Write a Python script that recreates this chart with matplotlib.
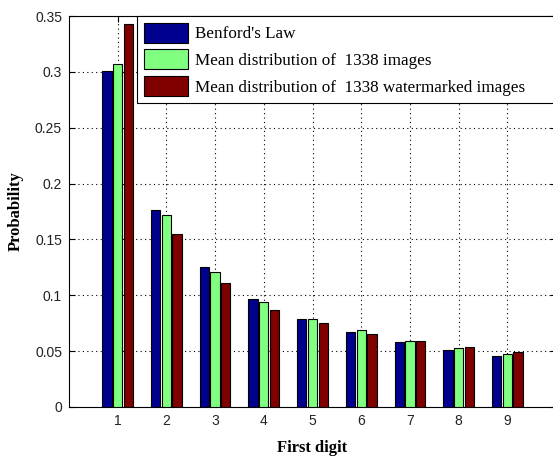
import matplotlib.pyplot as plt
import numpy as np

# first digit probabilities
digits = [1, 2, 3, 4, 5, 6, 7, 8, 9]
benford = [0.301, 0.176, 0.125, 0.097, 0.079, 0.067, 0.058, 0.051, 0.046]
original = [0.307, 0.172, 0.121, 0.094, 0.079, 0.069, 0.059, 0.053, 0.047]
watermarked = [0.343, 0.155, 0.111, 0.087, 0.075, 0.065, 0.059, 0.054, 0.049]
labels = ["Benford's Law",
          "Mean distribution of  1338 images",
          "Mean distribution of  1338 watermarked images"]
colors = ["#00008F", "#80FF80", "#800000"]

fig = plt.figure(figsize=(5.53, 4.58), dpi=100)
ax = fig.add_axes([69 / 553, 1 - 407 / 458, 487 / 553, 391 / 458])

x = np.array(digits)
w = 0.19
for off, vals, c, lab in zip([-0.22, 0, 0.22], [benford, original, watermarked], colors, labels):
    ax.bar(x + off, vals, width=w, color=c, edgecolor="black", linewidth=0.8, label=lab, zorder=3)

ax.set_xlim(0, 10)
ax.set_ylim(0, 0.35)
ax.set_xticks(digits)
ax.set_yticks(np.arange(0, 0.351, 0.05))
ax.set_yticklabels(["0", "0.05", "0.1", "0.15", "0.2", "0.25", "0.3", "0.35"])
ax.tick_params(direction="in", top=True, right=True, labelsize=10, length=4, pad=5)
for lbl in ax.get_xticklabels() + ax.get_yticklabels():
    lbl.set_family("Liberation Sans")
    lbl.set_color("#222222")
ax.grid(True, linestyle=(0, (1, 3)), color="black", linewidth=0.8, zorder=0)

ax.set_xlabel("First digit", family="Liberation Serif", fontweight="bold", fontsize=12, labelpad=9)
ax.set_ylabel("Probability", family="Liberation Serif", fontweight="bold", fontsize=12, labelpad=8)

# legend box runs past the right edge of the picture
leg = ax.legend(loc="upper left", bbox_to_anchor=(68 / 487, 0, 440 / 487, 1.0), mode="expand",
                fancybox=False, framealpha=1, edgecolor="black", borderaxespad=0,
                prop={"family": "Liberation Serif", "size": 12.3},
                handlelength=2.6, handleheight=1.4, labelspacing=0.4,
                borderpad=0.4, handletextpad=0.4)
leg.get_frame().set_linewidth(0.8)

fig.savefig("out.png", dpi=100)
